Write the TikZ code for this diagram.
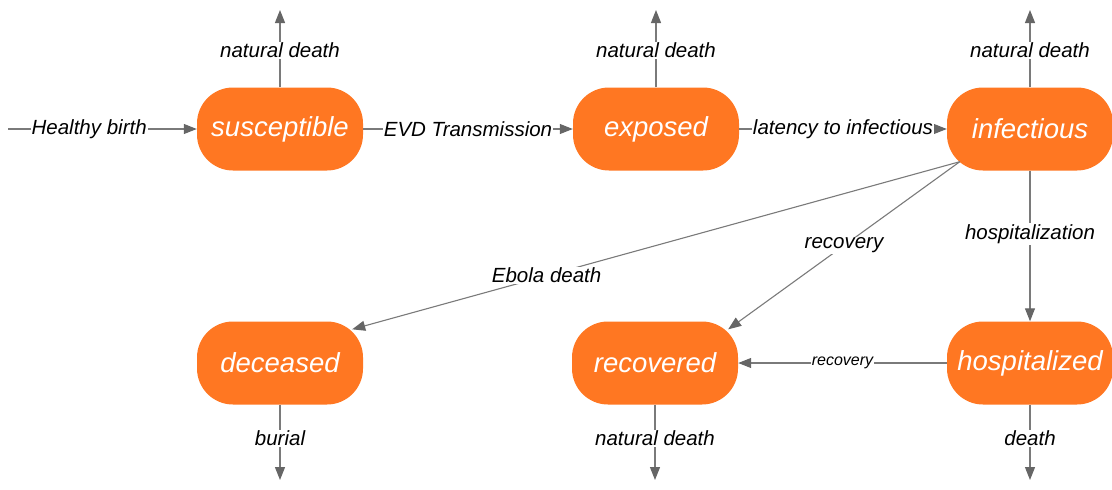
\documentclass[tikz,border=0pt]{standalone}
\usepackage{fontspec}
\setmainfont{Liberation Sans}
\usetikzlibrary{arrows.meta,calc}
\definecolor{nodeorange}{HTML}{FF7722}
\definecolor{linegray}{HTML}{7A7A7A}
\definecolor{tipgray}{HTML}{666666}
\tikzset{
  x=1pt,y=-1pt,
  state/.style={draw=none,fill=nodeorange,rounded corners=36pt,minimum width=166pt,minimum height=83pt,
    inner sep=0pt,text=white,font=\fontsize{27.5}{30}\selectfont\itshape},
  flow/.style={draw=linegray,line width=1.1pt,-{Triangle[length=13pt,width=10pt,color=tipgray]}},
  lab/.style={fill=white,inner sep=1pt,text=black,font=\fontsize{20.5}{22}\selectfont\itshape},
  smalllab/.style={fill=white,inner sep=1pt,text=black,font=\fontsize{16}{18}\selectfont\itshape}
}
\begin{document}
\begin{tikzpicture}
\useasboundingbox (0,0) rectangle (1112,490);
\node[state] (sus) at (280,129) {susceptible};
\node[state] (exp) at (656,129) {exposed};
\node[state] (inf) at (1030,129) {infectious};
\node[state] (dec) at (280,363) {deceased};
\node[state] (rec) at (655,363) {recovered};
\node[state] (hos) at (1030,363) {hospitalized};

\coordinate (birth) at (8,129);
\coordinate (sustop) at (280,10);
\coordinate (exptop) at (656,10);
\coordinate (inftop) at (1030,10);
\coordinate (decbot) at (280,480);
\coordinate (recbot) at (655,480);
\coordinate (hosbot) at (1030,480);

\draw[flow] (birth) -- node[lab,pos=0.43] {Healthy birth} (sus.west);
\draw[flow] (sus.east) -- node[lab] {EVD Transmission} (exp.west);
\draw[flow] (exp.east) -- node[lab] {latency to infectious} (inf.west);

\draw[flow] (sus.north) -- node[lab,pos=0.48] {natural death} (sustop);
\draw[flow] (exp.north) -- node[lab,pos=0.48] {natural death} (exptop);
\draw[flow] (inf.north) -- node[lab,pos=0.48] {natural death} (inftop);

\draw[flow] (inf.south) -- node[lab,pos=0.42] {hospitalization} (hos.north);
\draw[flow] ($(inf.south west)+(13,-9)$) -- node[lab,pos=0.68] {Ebola death} ($(dec.north east)+(-11,8)$);
\draw[flow] ($(inf.south west)+(13,-9)$) -- node[lab,pos=0.5] {recovery} ($(rec.north east)+(-10,8)$);
\draw[flow] (hos.west) -- node[smalllab] {recovery} (rec.east);

\draw[flow] (dec.south) -- node[lab,pos=0.45] {burial} (decbot);
\draw[flow] (rec.south) -- node[lab,pos=0.45] {natural death} (recbot);
\draw[flow] (hos.south) -- node[lab,pos=0.45] {death} (hosbot);
\end{tikzpicture}
\end{document}
